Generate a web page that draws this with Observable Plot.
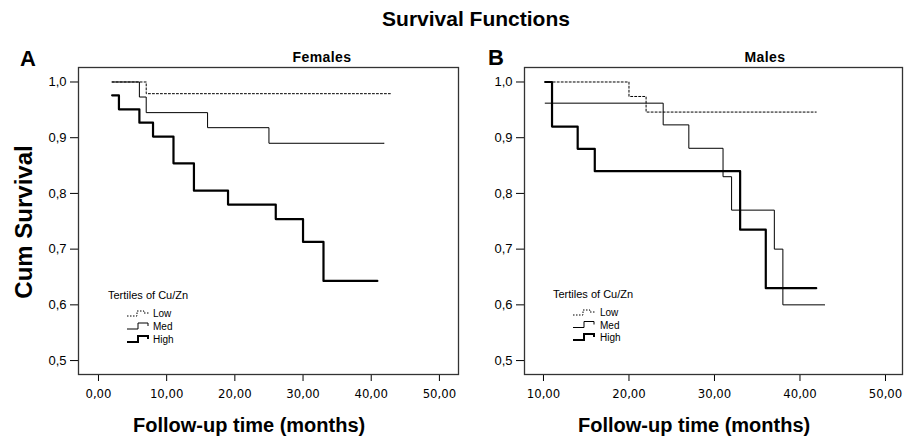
<!DOCTYPE html>
<html>
<head>
<meta charset="utf-8">
<script src="https://cdn.jsdelivr.net/npm/d3@7"></script>
<script src="https://cdn.jsdelivr.net/npm/@observablehq/plot@0.6"></script>
<style>
  html, body { margin: 0; padding: 0; background: white; }
  #wrap { position: relative; width: 904px; height: 441px; overflow: hidden; background: white; }
  #wrap > svg { position: absolute; top: 0; }
  #overlay { position: absolute; left: 0; top: 0; pointer-events: none; }
</style>
</head>
<body>
<div id="wrap"></div>
<script>
// ---- Data ----
const yTicks = [0.5, 0.6, 0.7, 0.8, 0.9, 1.0];
const xTicksA = [0, 10, 20, 30, 40, 50];
const xTicksB = [10, 20, 30, 40, 50];
const tertiles = ["Low", "Med", "High"];

// Panel A: Females
const lowA_t  = [2, 7, 42.8];
const lowA_s  = [1.0, 0.979, 0.979];
const medA_t  = [2, 6, 7, 16, 25, 41.9];
const medA_s  = [1.0, 0.973, 0.945, 0.918, 0.890, 0.890];
const highA_t = [2, 3, 6, 8, 11, 14, 19, 26, 30, 33, 40.9];
const highA_s = [0.976, 0.951, 0.927, 0.902, 0.854, 0.805, 0.780, 0.754, 0.713, 0.643, 0.643];

// Panel B: Males
const lowB_t  = [10.2, 20, 22, 41.9];
const lowB_s  = [1.0, 0.974, 0.946, 0.946];
const medB_t  = [10.2, 24, 27, 31, 32, 37, 38, 42.9];
const medB_s  = [0.962, 0.923, 0.881, 0.830, 0.770, 0.700, 0.600, 0.600];
const highB_t = [10.2, 11, 14, 16, 33, 36, 41.9];
const highB_s = [1.0, 0.920, 0.880, 0.840, 0.735, 0.630, 0.630];

const series = (ts, ss) => ts.map((t, i) => ({t, s: ss[i]}));
const fmt1 = d => d.toFixed(1).replace(".", ",");
const fmt2 = d => d.toFixed(2).replace(".", ",");

const FONT = "'Liberation Sans', Arial, Helvetica, sans-serif";
const NARROW = "'Liberation Sans Narrow', 'Arial Narrow', 'DejaVu Sans Condensed', 'Liberation Sans', sans-serif";

function panel({width, marginLeft, marginRight, xDomain, xTicks, low, med, high}) {
  return Plot.plot({
    width, height: 441,
    marginLeft, marginRight, marginTop: 67, marginBottom: 67,
    style: {fontFamily: FONT, background: "transparent", color: "black", overflow: "visible"},
    x: {domain: xDomain},
    y: {domain: [0.475, 1.026]},
    marks: [
      Plot.axisY({ticks: yTicks, tickFormat: fmt1, tickSize: 8, tickPadding: 4, fontSize: 13, label: null}),
      Plot.axisX({ticks: xTicks, tickFormat: fmt2, tickSize: 7, tickPadding: 7, fontSize: 13, fontFamily: NARROW, label: null}),
      Plot.line(med, {x: "t", y: "s", curve: "step-after", stroke: "black", strokeWidth: 1}),
      Plot.line(high, {x: "t", y: "s", curve: "step-after", stroke: "black", strokeWidth: 2.2}),
      Plot.line(low, {x: "t", y: "s", curve: "step-after", stroke: "black", strokeWidth: 1, strokeDasharray: "2,2"}),
      Plot.frame({stroke: "#333", strokeWidth: 1.3})
    ]
  });
}

const wrap = document.getElementById("wrap");

const A = panel({
  width: 470, marginLeft: 78, marginRight: 12,
  xDomain: [-2.93, 52.8], xTicks: xTicksA,
  low: series(lowA_t, lowA_s), med: series(medA_t, medA_s), high: series(highA_t, highA_s)
});
A.style.left = "0px";
wrap.appendChild(A);

const B = panel({
  width: 434, marginLeft: 54, marginRight: 2,
  xDomain: [7.78, 51.99], xTicks: xTicksB,
  low: series(lowB_t, lowB_s), med: series(medB_t, medB_s), high: series(highB_t, highB_s)
});
B.style.left = "470px";
wrap.appendChild(B);

// ---- Titles, labels, legends ----
const ov = d3.select(wrap).append("svg").attr("id", "overlay")
  .attr("width", 904).attr("height", 441)
  .style("font-family", FONT);

function txt(x, y, s, size, weight, anchor, rot) {
  const t = ov.append("text").attr("x", x).attr("y", y).text(s)
    .attr("font-size", size).attr("font-weight", weight || "normal")
    .attr("text-anchor", anchor || "start").attr("fill", "black");
  if (rot) t.attr("transform", `rotate(${rot},${x},${y})`);
  return t;
}

txt(476, 26, "Survival Functions", 21, "bold", "middle");
txt(20, 66, "A", 22, "bold");
txt(488, 65, "B", 22, "bold");
txt(322, 62, "Females", 14, "bold", "middle").attr("letter-spacing", 0.4);
txt(765, 62, "Males", 14, "bold", "middle").attr("letter-spacing", 0.4);
txt(32, 222, "Cum Survival", 24, "bold", "middle", -90);
txt(133, 432, "Follow-up time (months)", 20, "bold", "start");
txt(578, 432, "Follow-up time (months)", 20, "bold", "start");

function legend(x0, y0, gx, tx, dy) {
  txt(x0, y0, "Tertiles of Cu/Zn", 11, "normal");
  tertiles.forEach((name, i) => {
    const y = y0 + 18 + i * dy;
    const g = ov.append("path")
      .attr("d", name === "Low"
        ? `M${gx},${y - 1} h10 v-5 h7 v2 h5`
        : `M${gx},${y - 1} h11 v-6 h10 v3`)
      .attr("fill", "none").attr("stroke", "black")
      .attr("stroke-width", name === "High" ? 2 : 1);
    if (name === "Low") g.attr("stroke-dasharray", "1.5,1.5");
    txt(tx, y, name, 10, "normal");
  });
}
legend(108, 299, 127, 153, 13);
legend(553, 298, 573, 600, 12.5);
</script>
</body>
</html>
